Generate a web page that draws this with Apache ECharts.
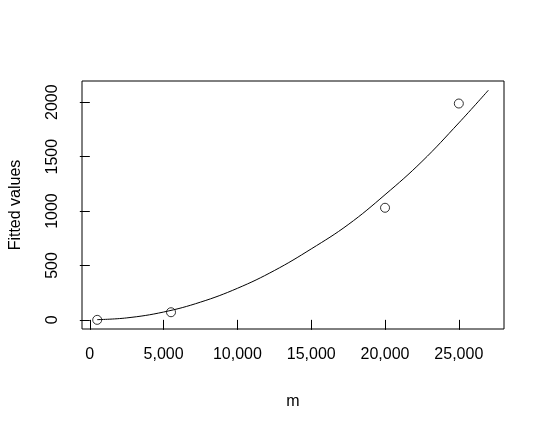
<!DOCTYPE html>
<html>
<head>
<meta charset="utf-8">
<script src="https://cdn.jsdelivr.net/npm/echarts@6/dist/echarts.min.js"></script>
<style>
  html, body { margin: 0; padding: 0; background: #fff; }
  #chart { width: 546px; height: 432px; }
</style>
</head>
<body>
<div id="chart"></div>
<script>
// observed points
const pointX = [500, 5500, 20000, 25000]
const pointY = [0, 70, 1030, 1988]

// fitted curve
const curveX = [500, 2500, 5000, 7500, 10000, 12500, 15000, 17500, 20000, 22500, 25000, 27000]
const curveY = [2, 18, 72, 163, 290, 453, 652, 875, 1150, 1455, 1810, 2110]

const xTicks = [0, 5000, 10000, 15000, 20000, 25000]
const yTicks = [0, 500, 1000, 1500, 2000]

const font = '"Liberation Sans", Arial, Helvetica, sans-serif'
const fmt = v => v.toLocaleString('en-US')

const chart = echarts.init(document.getElementById('chart'), null, { renderer: 'canvas' })
chart.setOption({
  animation: false,
  backgroundColor: '#fff',
  grid: {
    left: 82, right: 42, top: 81, bottom: 103,
    containLabel: false,
    outerBoundsMode: 'none',
    show: true, borderColor: '#000', borderWidth: 1, backgroundColor: 'transparent'
  },
  xAxis: {
    type: 'value',
    min: -530, max: 28060,
    name: 'm',
    nameLocation: 'middle',
    nameGap: 65,
    nameTextStyle: { color: '#000', fontSize: 16, fontFamily: font },
    axisLine: { show: false },
    splitLine: { show: false },
    axisTick: { show: true, inside: false, length: 10, customValues: xTicks, lineStyle: { color: '#000' } },
    axisLabel: {
      customValues: xTicks, formatter: fmt, margin: 18,
      color: '#000', fontSize: 16, fontFamily: font
    }
  },
  yAxis: {
    type: 'value',
    min: -84, max: 2195,
    name: 'Fitted values',
    nameLocation: 'middle',
    nameGap: 58,
    nameRotate: 90,
    nameTextStyle: { color: '#000', fontSize: 16, fontFamily: font },
    axisLine: { show: false },
    splitLine: { show: false },
    axisTick: { show: true, inside: false, length: 10, customValues: yTicks, lineStyle: { color: '#000' } },
    axisLabel: {
      customValues: yTicks, formatter: v => String(v), rotate: 90, margin: 21,
      color: '#000', fontSize: 16, fontFamily: font
    }
  },
  series: [
    {
      type: 'line',
      data: curveX.map((x, i) => [x, curveY[i]]),
      smooth: 0.4,
      showSymbol: false,
      lineStyle: { color: '#000', width: 1 },
      z: 2
    },
    {
      type: 'scatter',
      data: pointX.map((x, i) => [x, pointY[i]]),
      symbol: 'circle',
      symbolSize: 9,
      itemStyle: { color: 'rgba(255,255,255,0)', borderColor: '#000', borderWidth: 1 },
      z: 3
    }
  ]
})
</script>
</body>
</html>
